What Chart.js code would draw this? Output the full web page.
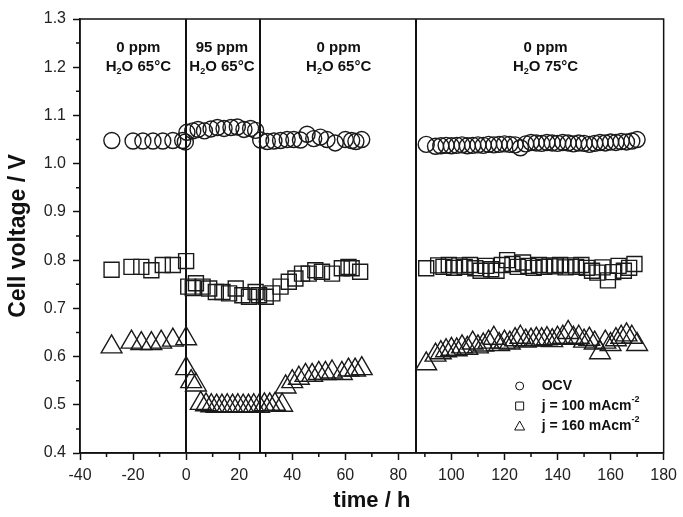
<!DOCTYPE html>
<html>
<head>
<meta charset="utf-8">
<script src="https://cdn.jsdelivr.net/npm/chart.js@4/dist/chart.umd.min.js"></script>
<style>
  html, body { margin: 0; padding: 0; background: #fff; }
</style>
</head>
<body>
<canvas id="myChart" width="683" height="517"></canvas>
<script>
// OCV (circles)
const ocvTime = [-28, -20, -16.3, -12.5, -8.8, -5, -1.3, -0.3, 0.3,
  2.5, 4.5, 6.9, 9.4, 11.8, 14.3, 16.9, 19.3, 21.8, 24.3, 26.2,
  28.1, 30.6, 33.1, 35.6, 38.1, 40.6, 43.1, 45.6, 48.1, 50.6, 53.1, 56.2, 60, 62.4, 64, 66.2,
  90.5, 94, 96, 98, 100, 102, 104, 106, 108, 110, 112, 114, 116, 118, 120, 122, 124, 126,
  128, 130, 132, 134, 136, 138, 140, 142, 144, 146, 148, 150, 152, 154, 156, 158, 160,
  162, 164, 166, 168, 170];
const ocvVolt = [1.048, 1.047, 1.047, 1.047, 1.047, 1.048, 1.048, 1.045, 1.065,
  1.068, 1.071, 1.068, 1.072, 1.075, 1.073, 1.075, 1.076, 1.071, 1.073, 1.069,
  1.049, 1.046, 1.047, 1.048, 1.05, 1.05, 1.049, 1.061, 1.052, 1.055, 1.05, 1.043, 1.05, 1.048, 1.046, 1.05,
  1.040, 1.036, 1.037, 1.038, 1.037, 1.038, 1.039, 1.037, 1.038, 1.039, 1.038, 1.040, 1.039, 1.040, 1.041, 1.040, 1.039, 1.033,
  1.041, 1.044, 1.043, 1.042, 1.044, 1.043, 1.042, 1.044, 1.043, 1.041, 1.043, 1.042, 1.040, 1.042, 1.044, 1.043, 1.045,
  1.044, 1.046, 1.045, 1.047, 1.050];

// j = 100 mA/cm2 (squares)
const j100Time = [-28.1, -20.6, -16.9, -13.1, -8.8, -5.0, 0,
  0.8, 2.5, 3.7, 6.2, 8.7, 11.2, 13.7, 16.2, 18.7, 21.2, 23.7, 26.2, 27.5,
  30, 32.5, 35.6, 38.7, 41.2, 43.7, 46.2, 48.7, 51.2, 55, 58.7, 61.2, 62.4, 65.6,
  90.5, 95, 97, 99, 101, 103, 105, 107, 109, 111, 113, 115, 117, 119, 121, 123, 125, 127, 129,
  131, 133, 135, 137, 139, 141, 143, 145, 147, 149, 151, 153, 155, 157, 159, 161, 163, 165, 167, 169];
const j100Volt = [0.780, 0.786, 0.786, 0.779, 0.790, 0.790, 0.798,
  0.745, 0.742, 0.752, 0.745, 0.741, 0.734, 0.734, 0.731, 0.741, 0.727, 0.724, 0.734, 0.727,
  0.724, 0.731, 0.745, 0.755, 0.762, 0.772, 0.772, 0.779, 0.776, 0.772, 0.783, 0.786, 0.783, 0.776,
  0.783, 0.789, 0.786, 0.790, 0.784, 0.789, 0.786, 0.790, 0.783, 0.778, 0.788, 0.781, 0.778, 0.790, 0.800, 0.792, 0.786, 0.795, 0.788,
  0.784, 0.790, 0.786, 0.789, 0.787, 0.790, 0.785, 0.789, 0.786, 0.790, 0.784, 0.778, 0.774, 0.785, 0.758, 0.775, 0.788, 0.778, 0.784, 0.792];

// j = 160 mA/cm2 (triangles)
const j160Time = [-28.1, -20.6, -16.9, -13.1, -9.4, -5, 0,
  0, 1.9, 3.7,
  5.5, 7.5, 9.5, 11.5, 13.5, 15.5, 17.5, 19.5, 21.5, 23.5, 25.5, 27.5, 29.5, 31.5, 33.5, 36.2,
  37.5, 40, 42.5, 45, 47.5, 50, 52.5, 55, 58.7, 61.2, 63.7, 66.2,
  90.5, 94, 96, 98, 100, 102, 104, 106, 108, 110, 112, 114, 116, 118, 120, 122, 124, 126, 128,
  130, 132, 134, 136, 138, 140, 142, 144, 146, 148, 150, 152, 154, 156, 158, 160, 162, 164, 166, 168, 170];
const j160Volt = [0.620, 0.630, 0.627, 0.627, 0.630, 0.634, 0.637,
  0.575, 0.548, 0.541,
  0.503, 0.500, 0.498, 0.497, 0.497, 0.498, 0.497, 0.498, 0.497, 0.497, 0.498, 0.497, 0.500, 0.500, 0.501, 0.499,
  0.537, 0.548, 0.555, 0.561, 0.561, 0.565, 0.565, 0.568, 0.565, 0.572, 0.572, 0.575,
  0.585, 0.603, 0.608, 0.612, 0.615, 0.614, 0.620, 0.617, 0.628, 0.620, 0.624, 0.630, 0.638, 0.625, 0.630, 0.628, 0.635, 0.640, 0.632,
  0.634, 0.636, 0.635, 0.637, 0.633, 0.638, 0.640, 0.650, 0.638, 0.640, 0.632, 0.636, 0.628, 0.608, 0.630, 0.625, 0.635, 0.640, 0.645, 0.640, 0.625];

// phase boundaries and labels
const phaseBounds = [0, 27.7, 86.5];
const phaseLabelAt = [-18, 13.5, 57.5, 135.5];
const phaseConc = ['0 ppm', '95 ppm', '0 ppm', '0 ppm'];
const phaseTemp = ['65°C', '65°C', '65°C', '75°C'];

const legendNames = ['OCV', 'j = 100 mAcm', 'j = 160 mAcm'];
const legendSup = ['', '-2', '-2'];
const legendStyle = ['circle', 'rect', 'triangle'];

const FONT = '"Liberation Sans", Arial, sans-serif';

function pts(xs, ys) {
  return xs.map((t, i) => ({x: t, y: ys[i]}));
}

function drawParts(ctx, parts, x, y, align) {
  let w = 0;
  parts.forEach(p => {
    ctx.font = 'bold ' + p.size + 'px ' + FONT;
    p.w = ctx.measureText(p.t).width;
    w += p.w;
  });
  let cx = align === 'center' ? x - w / 2 : x;
  ctx.textAlign = 'left';
  ctx.textBaseline = 'middle';
  parts.forEach(p => {
    ctx.font = 'bold ' + p.size + 'px ' + FONT;
    ctx.fillText(p.t, cx, y + p.dy);
    cx += p.w;
  });
}

function symbol(ctx, style, x, y) {
  ctx.beginPath();
  if (style === 'circle') {
    ctx.arc(x, y, 4, 0, Math.PI * 2);
  } else if (style === 'rect') {
    ctx.rect(x - 4, y - 4, 8, 8);
  } else {
    ctx.moveTo(x, y - 5);
    ctx.lineTo(x + 5, y + 4);
    ctx.lineTo(x - 5, y + 4);
    ctx.closePath();
  }
  ctx.stroke();
}

const decor = {
  id: 'decor',
  beforeDatasetsDraw(chart) {
    const {ctx, chartArea: a, scales: {x}} = chart;
    ctx.save();
    ctx.strokeStyle = '#111';
    ctx.lineWidth = 2;
    phaseBounds.forEach(t => {
      const px = Math.round(x.getPixelForValue(t));
      ctx.beginPath();
      ctx.moveTo(px, a.top);
      ctx.lineTo(px, a.bottom);
      ctx.stroke();
    });
    ctx.restore();
  },
  afterDraw(chart) {
    const {ctx, chartArea: a, scales: {x, y}} = chart;
    ctx.save();
    ctx.strokeStyle = '#111';
    ctx.lineWidth = 1.5;
    ctx.strokeRect(a.left, a.top, a.right - a.left, a.bottom - a.top);

    // minor ticks
    ctx.beginPath();
    for (let t = -30; t < 180; t += 20) {
      const px = x.getPixelForValue(t);
      ctx.moveTo(px, a.bottom);
      ctx.lineTo(px, a.bottom + 4);
    }
    for (let v = 0.45; v < 1.3; v += 0.1) {
      const py = y.getPixelForValue(v);
      ctx.moveTo(a.left, py);
      ctx.lineTo(a.left - 4, py);
    }
    ctx.stroke();

    // phase labels
    ctx.fillStyle = '#111';
    phaseLabelAt.forEach((t, i) => {
      const px = x.getPixelForValue(t);
      drawParts(ctx, [{t: phaseConc[i], size: 15, dy: 0}], px, a.top + 29, 'center');
      drawParts(ctx, [
        {t: 'H', size: 15, dy: 0},
        {t: '2', size: 9, dy: 5},
        {t: 'O ' + phaseTemp[i], size: 15, dy: 0}
      ], px, a.top + 48, 'center');
    });

    // legend
    ctx.lineWidth = 1;
    legendNames.forEach((name, i) => {
      const ly = a.bottom - 67 + i * 20;
      symbol(ctx, legendStyle[i], a.right - 144, ly);
      const parts = [{t: name, size: 14, dy: 0}];
      if (legendSup[i]) parts.push({t: legendSup[i], size: 9, dy: -6});
      drawParts(ctx, parts, a.right - 122, ly, 'left');
    });
    ctx.restore();
  }
};

const markerColor = '#1a1a1a';

new Chart(document.getElementById('myChart'), {
  type: 'scatter',
  data: {
    datasets: [
      {
        label: 'OCV',
        data: pts(ocvTime, ocvVolt),
        pointStyle: 'circle',
        pointRadius: 8,
        borderColor: markerColor,
        backgroundColor: 'rgba(0,0,0,0)',
        borderWidth: 1.4
      },
      {
        label: 'j = 100 mAcm-2',
        data: pts(j100Time, j100Volt),
        pointStyle: 'rect',
        pointRadius: 10.6,
        borderColor: markerColor,
        backgroundColor: 'rgba(0,0,0,0)',
        borderWidth: 1.4
      },
      {
        label: 'j = 160 mAcm-2',
        data: pts(j160Time, j160Volt),
        pointStyle: 'triangle',
        pointRadius: 12,
        borderColor: markerColor,
        backgroundColor: 'rgba(0,0,0,0)',
        borderWidth: 1.4
      }
    ]
  },
  options: {
    responsive: false,
    animation: false,
    devicePixelRatio: 1,
    layout: { padding: { top: 19, right: 16, left: 0, bottom: 0 } },
    plugins: {
      legend: { display: false },
      tooltip: { enabled: false }
    },
    scales: {
      x: {
        type: 'linear',
        min: -40,
        max: 180,
        ticks: {
          stepSize: 20,
          color: '#222',
          padding: 6,
          font: { family: FONT, size: 16 }
        },
        grid: {
          drawOnChartArea: false,
          tickLength: 7,
          tickColor: '#111',
          tickWidth: 1.5
        },
        border: { color: '#111', width: 1.5 },
        title: {
          display: true,
          text: 'time / h',
          color: '#111',
          font: { family: FONT, size: 22, weight: 'bold' },
          padding: { top: 0, bottom: 3 }
        },
        afterFit(s) { s.height = 64; }
      },
      y: {
        min: 0.4,
        max: 1.3,
        ticks: {
          stepSize: 0.1,
          color: '#222',
          padding: 7,
          font: { family: FONT, size: 16 },
          callback: v => Number(v).toFixed(1)
        },
        grid: {
          drawOnChartArea: false,
          tickLength: 7,
          tickColor: '#111',
          tickWidth: 1.5
        },
        border: { color: '#111', width: 1.5 },
        title: {
          display: true,
          text: 'Cell voltage / V',
          color: '#111',
          font: { family: FONT, size: 23, weight: 'bold' },
          padding: { top: 5, bottom: 0 }
        },
        afterFit(s) { s.width = 80; }
      }
    }
  },
  plugins: [decor]
});
</script>
</body>
</html>
